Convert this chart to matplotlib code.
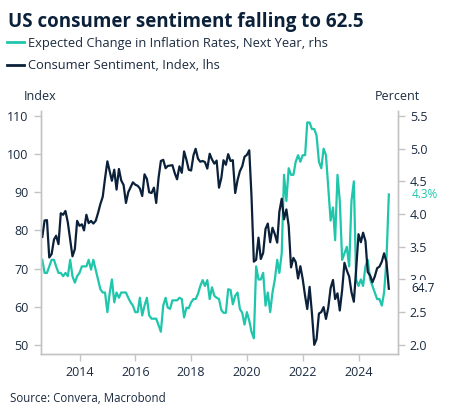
import matplotlib
matplotlib.use("Agg")
import matplotlib.pyplot as plt
from matplotlib.lines import Line2D
import pandas as pd

plt.rcParams['font.family'] = ['Open Sans', 'DejaVu Sans']

# ---------------- data (monthly, Sep 2012 .. Feb 2025) ----------------
start_month = "2012-09-01"

sentiment = [
    78.3, 82.6, 82.7, 72.9,                                                # 2012 Sep-Dec
    73.8, 77.6, 78.6, 76.4, 84.5, 84.1, 85.1, 82.1, 77.5, 73.2, 75.1, 82.5,  # 2013
    81.2, 81.6, 80.0, 84.1, 81.9, 82.5, 81.8, 82.5, 84.6, 86.9, 88.8, 93.6,  # 2014
    98.1, 95.4, 93.0, 95.9, 90.7, 96.1, 93.1, 91.9, 87.2, 90.0, 91.3, 92.6,  # 2015
    92.0, 91.7, 91.0, 89.0, 94.7, 93.5, 90.0, 89.8, 91.2, 87.2, 93.8, 98.2,  # 2016
    98.5, 96.3, 96.9, 97.0, 97.1, 95.0, 93.4, 96.8, 95.1, 100.7, 98.5, 95.9, # 2017
    95.7, 99.7, 101.4, 98.8, 98.0, 98.2, 97.9, 96.2, 100.1, 98.6, 97.5, 98.3, # 2018
    91.2, 93.8, 98.4, 97.2, 100.0, 98.2, 98.4, 89.8, 93.2, 95.5, 96.8, 99.3, # 2019
    99.8, 101.0, 89.1, 71.8, 72.3, 78.1, 72.5, 74.1, 80.4, 81.8, 76.9, 80.7, # 2020
    79.0, 76.8, 84.9, 88.3, 82.9, 85.5, 81.2, 70.3, 72.8, 71.7, 67.4, 70.6,  # 2021
    67.2, 62.8, 59.4, 65.2, 58.4, 50.0, 51.5, 58.2, 58.6, 59.9, 56.8, 59.7,  # 2022
    64.9, 67.0, 62.0, 63.5, 59.0, 64.4, 71.5, 69.5, 67.9, 63.8, 61.3, 69.7,  # 2023
    79.0, 76.9, 79.4, 77.2, 69.1, 68.2, 66.4, 67.9, 70.1, 70.5, 71.8, 74.0,  # 2024
    71.7, 64.7,                                                             # 2025 Jan-Feb
]

inflation = [
    3.3, 3.1, 3.1, 3.2,                                                  # 2012 Sep-Dec
    3.3, 3.3, 3.2, 3.1, 3.1, 3.05, 3.1, 3.05, 3.3, 3.05, 2.95, 3.05,     # 2013
    3.1, 3.2, 3.2, 3.2, 3.3, 3.15, 3.3, 3.15, 3.0, 2.85, 2.8, 2.8,       # 2014
    2.5, 2.8, 3.0, 2.65, 2.8, 2.72, 2.8, 2.8, 2.8, 2.72, 2.65, 2.6,      # 2015
    2.5, 2.5, 2.72, 2.45, 2.6, 2.72, 2.45, 2.4, 2.4, 2.4, 2.3, 2.2,      # 2016
    2.6, 2.72, 2.57, 2.55, 2.68, 2.68, 2.68, 2.72, 2.7, 2.42, 2.57, 2.56, # 2017
    2.65, 2.7, 2.7, 2.78, 2.9, 2.99, 2.9, 2.99, 2.7, 2.88, 2.75, 2.72,   # 2018
    2.7, 2.53, 2.49, 2.49, 2.85, 2.84, 2.62, 2.75, 2.8, 2.55, 2.49, 2.31, # 2019
    2.5, 2.37, 2.2, 2.1, 3.2, 3.0, 3.0, 3.1, 2.6, 2.8, 2.5, 2.8,         # 2020
    3.0, 3.3, 3.1, 3.4, 4.6, 4.2, 4.7, 4.6, 4.6, 4.8, 4.9, 4.8,          # 2021
    4.9, 4.9, 5.4, 5.4, 5.3, 5.3, 5.2, 4.8, 4.7, 5.0, 4.9, 4.4,          # 2022
    3.9, 4.1, 3.6, 4.6, 4.2, 3.3, 3.4, 3.5, 3.2, 4.2, 4.5, 3.0,          # 2023
    2.9, 3.0, 2.9, 3.2, 3.3, 3.0, 2.9, 2.8, 2.7, 2.7, 2.6, 2.8,          # 2024
    3.3, 4.3,                                                           # 2025 Jan-Feb
]

left_ticks = [50, 60, 70, 80, 90, 100, 110]
right_ticks = [2.0, 2.5, 3.0, 3.5, 4.0, 4.5, 5.0, 5.5]
year_ticks = [2014, 2016, 2018, 2020, 2022, 2024]

title = "US consumer sentiment falling to 62.5"
label_infl = "Expected Change in Inflation Rates, Next Year, rhs"
label_sent = "Consumer Sentiment, Index, lhs"
source = "Source: Convera, Macrobond"

# ---------------- styling ----------------
TEAL = "#1fc6ab"
NAVY = "#0b2039"
GRID = "#c4c4c4"
TXT = "#1c2b40"

dates = pd.date_range(start_month, periods=len(sentiment), freq="MS")

fig = plt.figure(figsize=(4.53, 4.17), dpi=100)
ax = fig.add_axes([41/453, 1-354/417, (398-41)/453, (354-111)/417])
ax2 = ax.twinx()

left_lim = (47.6, 111.3)
def l2r(v):
    return 2.0 + (v - 50) * 3.5 / 60
def r2l(v):
    return 50 + (v - 2.0) * 60 / 3.5
ax.set_ylim(*left_lim)
ax2.set_ylim(l2r(left_lim[0]), l2r(left_lim[1]))

ax.set_xlim(pd.Timestamp("2012-08-15"), pd.Timestamp("2025-06-01"))

ax2.plot(dates, inflation, color=TEAL, lw=1.6, solid_joinstyle="round")
ax.plot(dates, sentiment, color=NAVY, lw=1.6, solid_joinstyle="round")
ax.set_zorder(ax2.get_zorder() + 1)
ax.patch.set_visible(False)

ax.set_yticks(left_ticks)
ax2.set_yticks(right_ticks)
ax2.set_yticklabels([f"{t:.1f}" for t in right_ticks])
ax.set_xticks([pd.Timestamp(f"{y}-01-01") for y in year_ticks])
ax.set_xticklabels([str(y) for y in year_ticks])

for a in (ax, ax2):
    a.spines["top"].set_visible(False)
    for s in ("left", "right", "bottom"):
        a.spines[s].set_color(GRID)
        a.spines[s].set_linewidth(1.0)
ax.tick_params(axis="y", length=5, width=1, color=GRID, pad=4, labelsize=9, labelcolor=TXT)
ax2.tick_params(axis="y", length=5, width=1, color=GRID, pad=3.5, labelsize=9, labelcolor=TXT)
ax.tick_params(axis="x", length=5, width=1, color=GRID, pad=4, labelsize=9, labelcolor=TXT)

# end labels (drawn over the right tick labels, as in the original)
ax_over = fig.add_axes(ax.get_position(), frameon=False)
ax_over.set_xlim(ax.get_xlim())
ax_over.set_ylim(ax.get_ylim())
ax_over.set_xticks([]); ax_over.set_yticks([])
ax_over.annotate(f"{inflation[-1]:.1f}%", xy=(dates[-1], r2l(inflation[-1])),
                 xytext=(23, 0), textcoords="offset pixels", va="center", ha="left",
                 color=TEAL, fontsize=8.5, annotation_clip=False,
                 bbox=dict(boxstyle="square,pad=0.15", fc="white", ec="none"))
ax_over.annotate(f"{sentiment[-1]:.1f}", xy=(dates[-1], sentiment[-1]),
                 xytext=(23, 0), textcoords="offset pixels", va="center", ha="left",
                 color=NAVY, fontsize=8.5, annotation_clip=False,
                 bbox=dict(boxstyle="square,pad=0.15", fc="white", ec="none"))

# titles & labels
fig.text(8/453, 1-22/417, title, fontsize=13.5, fontweight="bold", color=NAVY, va="center", ha="left")
handles = [Line2D([0], [0], color=TEAL, lw=2), Line2D([0], [0], color=NAVY, lw=2)]
fig.legend(handles, [label_infl, label_sent], loc="upper left",
           bbox_to_anchor=(4/453, 1-34/417), frameon=False, fontsize=9.3,
           handlelength=1.35, handletextpad=0.3, labelspacing=0.75, borderaxespad=0,
           borderpad=0.2, labelcolor=TXT)
fig.text(24/453, 1-96/417, "Index", fontsize=9, color=TXT, va="center", ha="left")
fig.text(375/453, 1-96/417, "Percent", fontsize=9, color=TXT, va="center", ha="left")
fig.text(10/453, 1-398/417, source, fontsize=8.3, color=TXT, va="center", ha="left")

fig.savefig("out.png", dpi=100)
